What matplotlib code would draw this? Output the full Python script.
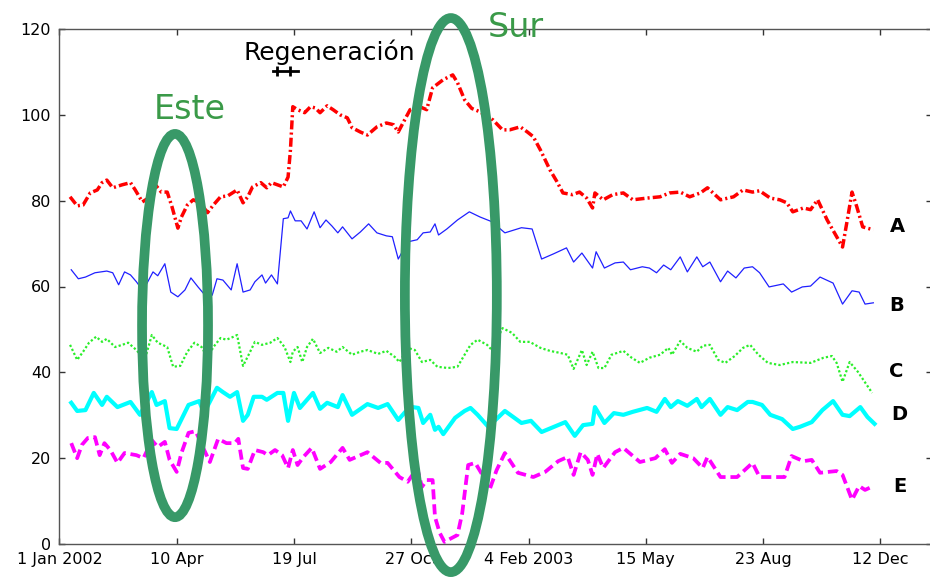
import matplotlib
matplotlib.use("Agg")
import matplotlib.pyplot as plt
from matplotlib.patches import Ellipse

# x values: days since 1 Jan 2002
days_A = [9,15,20,26,32,36,40,45,53,60,64,70,75,81,86,91,95,100,103,108,113,119,125,130,136,142,150,155,159,163,
          170,175,179,184,189,193,195,197,201,207,212,216,220,226,231,237,243,247,254,260,268,276,282,286,290,296,
          304,310,315,324,332,336,342,348,355,366,374,380,389,395,400,406,414,420,425,433,439,445,450,452,459,467,
          476,484,496,507,515,524,532,541,547,558,569,577,585,591,600,608,614,619,628,634,640,648,661,665,669,673,678,687]
vals_A = [80.9,78.8,79.0,81.8,82.5,84.2,84.8,83.0,83.7,84.2,82.5,79.7,80.6,83.7,82.0,82.0,78.6,73.6,76.2,79.0,
          80.2,79.5,77.2,79.0,80.9,81.1,82.5,79.5,80.9,83.2,84.2,83.0,84.2,83.7,83.2,85.5,91.8,101.9,101.2,100.5,
          101.9,101.6,100.5,102.1,101.2,100.0,99.3,97.0,96.0,95.3,97.2,98.1,97.7,96.0,98.1,101.2,101.9,101.2,106.3,108.2,
          109.3,107.5,103.5,101.5,100.7,98.8,96.5,96.5,97.2,96.0,94.9,91.8,87.2,84.4,81.8,81.4,82.0,80.6,78.3,81.8,
          80.2,81.4,81.8,80.2,80.6,80.9,81.8,82.0,80.9,81.8,83.0,80.2,80.9,82.5,82.0,82.3,80.6,80.2,79.5,77.4,
          78.3,77.9,80.2,75.5,69.2,75.5,82.0,78.6,73.9,73.2]

days_B = [10,16,22,30,40,45,50,55,60,65,70,74,79,83,89,94,100,106,111,117,125,129,133,138,145,150,155,161,165,171,
          174,179,184,189,193,195,199,204,209,215,220,225,230,235,239,247,254,261,268,276,281,286,294,302,307,313,317,320,327,336,
          346,355,365,376,390,399,407,417,428,434,441,450,453,460,469,476,482,492,498,504,510,516,524,530,538,543,549,558,564,571,
          578,585,591,599,611,618,627,634,642,653,661,669,675,680,687]
vals_B = [63.9,61.8,62.2,63.2,63.6,63.2,60.4,63.4,62.7,61.1,59.2,60.8,63.4,62.5,65.3,58.7,57.6,59.2,62.0,59.9,
          57.3,58.0,61.8,61.5,59.2,65.3,58.7,59.2,61.1,62.7,60.8,62.7,60.6,75.8,76.0,77.6,75.3,75.3,73.4,77.4,
          73.7,75.5,74.1,72.5,73.9,71.1,72.7,74.6,72.5,71.8,71.6,66.4,70.4,70.9,72.5,72.7,74.6,72.0,73.4,75.5,
          77.4,76.2,75.1,72.5,73.7,73.4,66.4,67.6,69.0,65.7,67.8,64.3,68.1,64.3,65.5,65.7,63.9,64.6,64.3,63.2,
          65.0,63.9,66.9,63.4,66.9,64.6,65.7,61.1,63.6,62.0,64.3,64.6,63.2,59.9,60.6,58.7,59.9,60.1,62.2,60.8,
          55.9,59.0,58.7,55.9,56.2]

days_C = [9,15,20,25,31,36,40,47,53,58,65,72,78,83,91,96,102,108,114,120,125,130,136,141,147,150,155,161,165,171,
          178,184,190,195,197,201,205,209,214,220,227,234,239,247,254,260,269,276,283,287,294,300,306,313,319,328,336,342,347,353,
          361,365,374,382,389,397,406,414,423,429,434,441,445,450,455,460,466,476,483,490,498,507,514,517,524,530,538,543,549,556,
          562,570,577,583,590,598,608,619,634,645,652,656,661,667,674,686]
vals_C = [46.4,42.9,44.8,46.9,48.3,47.1,47.8,45.9,46.4,46.9,45.2,42.9,48.7,46.9,45.9,41.3,41.5,44.8,46.9,45.9,
          43.4,45.9,48.0,47.6,48.3,48.7,41.5,44.8,47.1,46.4,46.9,48.0,45.9,42.4,44.8,45.9,42.4,45.9,47.8,44.5,
          45.7,44.8,45.9,44.1,44.8,45.2,44.3,45.0,43.6,42.4,45.7,45.2,42.4,42.9,41.3,41.0,41.3,44.1,46.4,47.6,
          46.4,45.2,50.3,49.2,47.1,47.1,45.7,45.0,44.5,44.1,40.8,45.2,41.7,44.8,41.0,41.0,44.1,45.0,43.4,42.2,
          43.4,44.1,45.7,44.1,47.3,45.7,44.8,46.2,46.4,42.9,42.2,43.8,45.7,46.4,44.1,42.2,41.7,42.4,42.2,43.4,
          43.8,42.2,37.8,42.4,40.1,35.2]

days_D = [10,15,22,29,36,40,49,60,68,78,82,89,93,99,109,118,122,133,138,144,150,155,159,164,171,175,184,189,193,198,
          203,214,220,226,235,239,247,260,269,277,286,292,298,303,307,313,317,320,324,334,342,347,353,362,376,390,398,407,427,435,
          442,450,452,460,468,476,484,496,504,511,516,522,530,538,542,549,558,564,572,581,585,593,600,610,619,625,635,644,653,661,
          667,676,682,688]
vals_D = [32.9,31.0,31.2,35.2,32.4,34.3,31.9,33.1,30.1,35.4,32.4,33.3,27.0,26.8,32.4,33.3,30.5,36.4,35.4,34.3,
          35.4,28.7,30.1,34.3,34.3,33.6,35.2,35.2,28.7,35.2,31.7,35.2,31.5,32.9,31.9,34.7,30.1,32.6,31.7,32.6,
          28.9,30.8,31.9,31.7,28.2,30.1,26.6,27.3,25.6,29.4,31.0,31.7,30.1,27.3,31.0,28.2,28.7,26.1,28.4,25.2,
          27.7,28.0,31.9,28.2,30.5,30.1,30.8,31.7,30.8,33.8,31.9,33.3,32.2,33.8,31.9,33.8,30.1,31.9,31.2,33.1,
          33.1,32.4,30.1,29.1,26.8,27.3,28.4,31.2,33.3,30.1,29.8,31.9,29.6,28.0]

days_E = [10,15,19,24,30,34,38,43,49,55,65,71,78,83,89,93,99,103,109,115,121,127,134,141,148,151,155,159,165,172,
          176,182,188,193,197,201,206,213,220,229,239,245,260,271,277,287,294,302,306,310,315,317,321,325,336,340,345,351,357,363,
          369,376,387,400,410,421,429,434,440,446,450,454,459,469,476,490,503,511,517,524,535,543,547,558,572,585,591,612,618,628,
          635,642,656,661,669,675,680,687]
vals_E = [23.5,20.0,23.1,24.7,24.9,20.7,23.5,21.9,18.9,21.2,20.7,20.0,24.2,22.6,23.8,19.6,16.8,21.2,25.9,26.3,
          22.6,19.1,24.5,23.5,23.5,24.5,17.7,17.5,21.9,21.4,20.7,21.9,20.7,17.7,21.9,18.4,20.3,22.4,17.5,19.1,
          22.4,19.6,21.4,18.9,18.9,15.6,14.5,17.7,13.3,14.9,14.9,6.3,2.6,0.5,2.1,7.2,18.4,18.9,16.1,12.6,
          17.2,21.2,16.6,15.6,16.8,19.3,20.3,16.1,21.4,19.6,16.1,21.0,17.7,21.4,22.4,19.1,20.0,22.1,18.9,21.0,
          20.0,17.7,20.3,15.6,15.6,18.9,15.6,15.6,20.5,19.3,19.6,16.6,17.0,16.1,10.3,13.5,12.6,13.5]

tick_days = [0, 99, 198, 297, 396, 495, 594, 693]
tick_labels = ["1 Jan 2002", "10 Apr", "19 Jul", "27 Oct", "4 Feb 2003", "15 May", "23 Aug", "12 Dec"]
series_names = ["A", "B", "C", "D", "E"]

plt.rcParams['font.family'] = ['DejaVu Sans']

fig = plt.figure(figsize=(9.3, 5.78), dpi=100)
ax = fig.add_axes([59.4/930, 34/578, (932-59.4)/930, 515/578])

ax.plot(days_A, vals_A, color='red', lw=2.5, linestyle=(0, (2.6, 0.9, 0.6, 0.9)))
ax.plot(days_B, vals_B, color='#2020ff', lw=0.9)
ax.plot(days_C, vals_C, color='#2aee2a', lw=1.6, linestyle=(0, (1.0, 1.0)))
ax.plot(days_D, vals_D, color='cyan', lw=3.0)
ax.plot(days_E, vals_E, color='magenta', lw=2.7, linestyle=(0, (2.7, 1.3)))

ax.set_xlim(0, 736.5)
ax.set_ylim(0, 120)
ax.set_xticks(tick_days)
ax.set_xticklabels(tick_labels)
ax.set_yticks(range(0, 121, 20))
ax.tick_params(direction='in', length=4, width=1, top=True, right=True,
               labelsize=11.5, colors='#333333', labelcolor='black', pad=6)
for sp in ax.spines.values():
    sp.set_color('#555555')
    sp.set_linewidth(1.0)

# series labels
label_pos = {"A": (707, 73.9), "B": (707, 55.5), "C": (706, 40.3), "D": (709, 30.1), "E": (709, 13.5)}
for name in series_names:
    x, y = label_pos[name]
    ax.text(x, y, name, fontsize=14, fontweight='bold', ha='center', va='center')

# annotations
ax.text(228, 112.8, "Regeneración", fontsize=18, ha='center', va='baseline', color='black')
ax.plot([180, 201], [110.3, 110.3], color='black', lw=2)
ax.plot([184, 195], [110.3, 110.3], linestyle='none', marker='|', markersize=7, mew=2, color='black')

ell_col = '#389968'
txt_col = '#3a9a48'
ax.add_patch(Ellipse((97.6, 50.9), 55.7, 89.3, fill=False, ec=ell_col, lw=7, clip_on=False, zorder=5))
ax.add_patch(Ellipse((330.4, 58.0), 77.6, 129.1, fill=False, ec=ell_col, lw=7, clip_on=False, zorder=5))
ax.text(110, 99.1, "Este", fontsize=24, color=txt_col, ha='center', va='baseline')
ax.text(385, 118.2, "Sur", fontsize=24, color=txt_col, ha='center', va='baseline', clip_on=False)

fig.savefig("out.png", dpi=100, facecolor='white')
